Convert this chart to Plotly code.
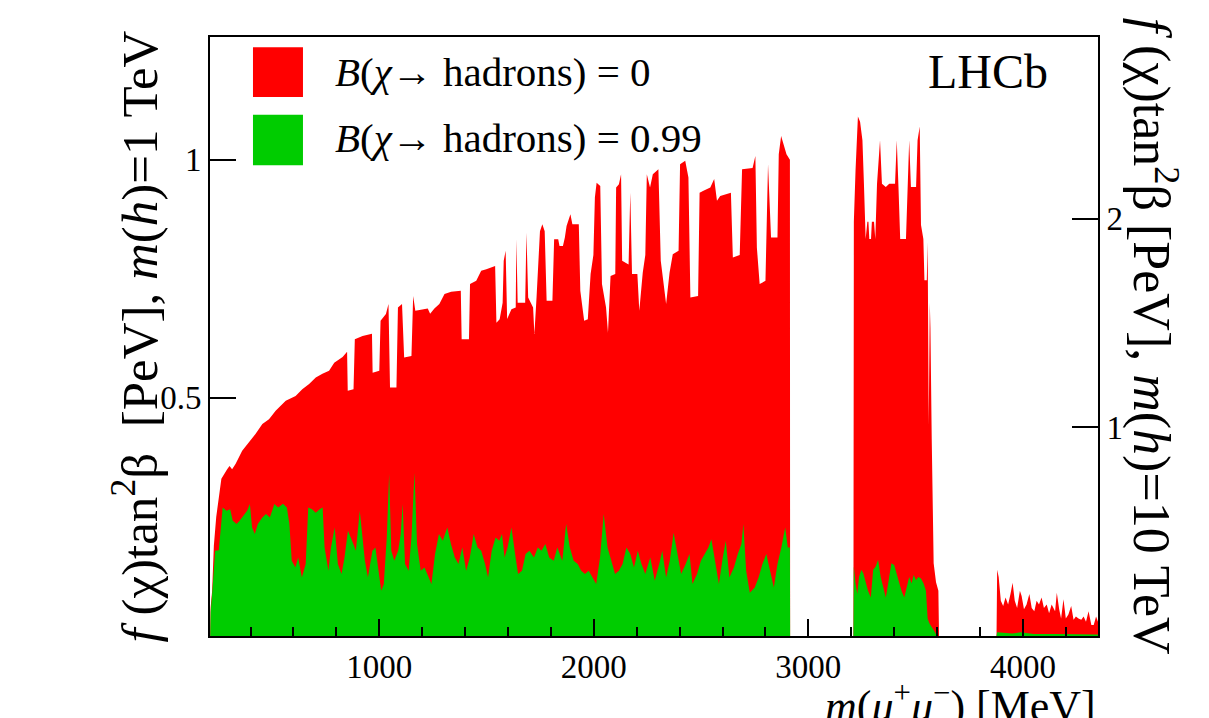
import plotly.graph_objects as go

# ---------------- data ----------------
# B(chi -> hadrons) = 0  (red), m(mu+mu-) in MeV, f(chi) tan^2 beta [PeV] for m(h)=1 TeV
red_mass = [
    212, 214, 221, 229, 240, 252, 264, 291, 302, 314, 330, 361, 392, 423, 455, 486, 517, 564,
    610, 641, 673, 704, 735, 766, 790, 829, 850, 853, 880, 886, 922, 966, 969, 1000, 1006,
    1031, 1043, 1050, 1080, 1087, 1106, 1116, 1150, 1158, 1168, 1226, 1237, 1257, 1280, 1304,
    1335, 1380, 1384, 1418, 1423, 1452, 1475, 1499, 1540, 1546, 1561, 1575, 1580, 1589, 1596,
    1616, 1636, 1639, 1645, 1680, 1686, 1694, 1717, 1723, 1733, 1749, 1760, 1771, 1780, 1807,
    1815, 1834, 1840, 1856, 1865, 1873, 1891, 1900, 1930, 1937, 1955, 1972, 1985, 1998, 2005,
    2013, 2030, 2038, 2057, 2066, 2078, 2100, 2104, 2117, 2127, 2132, 2162, 2170, 2178, 2203,
    2212, 2228, 2240, 2247, 2262, 2275, 2301, 2312, 2337, 2353, 2368, 2395, 2402, 2426, 2441,
    2450, 2486, 2493, 2511, 2543, 2561, 2574, 2589, 2639, 2648, 2680, 2691, 2740, 2753, 2760,
    2773, 2800, 2812, 2826, 2856, 2862, 2873, 2886, 2898, 2914, 2915,
    3210, 3212, 3220, 3231, 3241, 3252, 3259, 3267, 3275, 3280, 3284, 3292, 3296, 3306, 3312,
    3320, 3334, 3343, 3361, 3377, 3404, 3412, 3420, 3428, 3455, 3462, 3470, 3478, 3502, 3509,
    3519, 3525, 3536, 3541, 3552, 3556, 3561, 3566, 3569, 3575, 3584, 3595, 3606, 3609,
    3877, 3880, 3887, 3897, 3908, 3919, 3931, 3942, 3952, 3962, 3973, 3986, 3994, 4005, 4017,
    4030, 4041, 4053, 4064, 4075, 4087, 4098, 4111, 4122, 4134, 4150, 4158, 4169, 4178, 4189,
    4200, 4212, 4225, 4236, 4247, 4259, 4272, 4283, 4294, 4306, 4319, 4330, 4341, 4350,
]
red_limit = [
    0.0, 0.06, 0.095, 0.19, 0.25, 0.29, 0.33, 0.35, 0.357, 0.35, 0.361, 0.389, 0.406, 0.424,
    0.445, 0.455, 0.473, 0.494, 0.504, 0.518, 0.529, 0.543, 0.551, 0.557, 0.574, 0.586, 0.597,
    0.515, 0.518, 0.623, 0.630, 0.635, 0.553, 0.557, 0.662, 0.676, 0.697, 0.522, 0.522, 0.690,
    0.697, 0.585, 0.588, 0.714, 0.683, 0.688, 0.677, 0.688, 0.697, 0.718, 0.723, 0.725, 0.623,
    0.623, 0.739, 0.746, 0.767, 0.770, 0.777, 0.658, 0.665, 0.700, 0.788, 0.809, 0.666, 0.686,
    0.690, 0.833, 0.700, 0.700, 0.847, 0.711, 0.690, 0.634, 0.711, 0.850, 0.865, 0.850, 0.704,
    0.704, 0.833, 0.833, 0.819, 0.819, 0.837, 0.861, 0.886, 0.865, 0.865, 0.725, 0.662, 0.665,
    0.760, 0.800, 0.921, 0.952, 0.945, 0.739, 0.690, 0.637, 0.756, 0.760, 0.942, 0.949, 0.970,
    0.788, 0.780, 0.931, 0.760, 0.760, 0.683, 0.763, 0.800, 0.970, 0.942, 0.970, 0.980, 0.788,
    0.697, 0.763, 0.802, 0.809, 0.991, 0.998, 0.963, 0.711, 0.714, 0.931, 0.935, 0.942, 0.960,
    0.914, 0.924, 0.931, 0.795, 0.800, 0.980, 0.983, 1.008, 0.816, 0.739, 0.746, 0.991, 0.837,
    0.837, 1.012, 1.050, 1.030, 1.012, 1.000, 0.0,
    0.0, 0.870, 0.979, 1.091, 1.080, 1.041, 0.950, 0.834, 0.870, 0.870, 0.834, 0.834, 0.870,
    0.870, 0.834, 0.950, 1.041, 0.950, 0.943, 0.950, 0.950, 1.041, 0.943, 0.834, 0.834, 0.943,
    1.041, 0.943, 0.943, 1.041, 1.070, 0.863, 0.834, 0.747, 0.747, 0.827, 0.443, 0.700, 0.646,
    0.414, 0.153, 0.113, 0.095, 0.0,
    0.0, 0.139, 0.124, 0.074, 0.063, 0.081, 0.066, 0.088, 0.112, 0.074, 0.059, 0.095, 0.084,
    0.056, 0.066, 0.088, 0.059, 0.052, 0.074, 0.066, 0.081, 0.059, 0.066, 0.048, 0.066, 0.052,
    0.091, 0.056, 0.037, 0.077, 0.037, 0.045, 0.063, 0.034, 0.041, 0.037, 0.034, 0.041, 0.030,
    0.052, 0.023, 0.023, 0.041, 0.030,
]

# B(chi -> hadrons) = 0.99 (green)
green_mass = [
    212, 214, 222, 235, 252, 270, 288, 305, 317, 335, 349, 367, 384, 397, 407, 420, 434, 455,
    472, 490, 511, 529, 551, 569, 581, 592, 609, 622, 639, 657, 669, 687, 704, 722, 736, 745,
    763, 775, 792, 807, 824, 838, 854, 873, 891, 909, 921, 933, 947, 968, 982, 995, 1009, 1021,
    1035, 1046, 1056, 1070, 1088, 1100, 1109, 1120, 1137, 1150, 1164, 1176, 1193, 1211, 1229,
    1243, 1260, 1278, 1296, 1317, 1334, 1352, 1369, 1387, 1405, 1422, 1440, 1458, 1475, 1493,
    1507, 1524, 1542, 1559, 1572, 1584, 1598, 1616, 1633, 1647, 1665, 1682, 1700, 1721, 1739,
    1756, 1774, 1792, 1813, 1830, 1853, 1871, 1888, 1906, 1925, 1941, 1959, 1976, 1994, 2011,
    2029, 2046, 2064, 2082, 2099, 2117, 2134, 2152, 2170, 2187, 2205, 2222, 2240, 2263, 2284,
    2305, 2319, 2337, 2354, 2372, 2389, 2407, 2428, 2446, 2460, 2481, 2499, 2516, 2534, 2548,
    2565, 2583, 2601, 2615, 2632, 2653, 2671, 2688, 2697, 2710, 2727, 2750, 2768, 2786, 2804,
    2821, 2839, 2856, 2874, 2892, 2904, 2914, 2915,
    3210, 3212, 3220, 3228, 3236, 3247, 3256, 3267, 3278, 3291, 3302, 3314, 3325, 3337, 3350,
    3361, 3372, 3381, 3387, 3400, 3411, 3423, 3434, 3447, 3459, 3470, 3481, 3491, 3502, 3512,
    3525, 3537, 3548, 3556, 3564, 3575, 3587, 3600,
    3877, 3880, 3950, 3990, 4050, 4150, 4250, 4350,
]
green_limit = [
    0.0, 0.05, 0.095, 0.179, 0.180, 0.270, 0.263, 0.266, 0.242, 0.235, 0.242, 0.252, 0.263,
    0.277, 0.228, 0.214, 0.235, 0.249, 0.256, 0.249, 0.277, 0.270, 0.278, 0.270, 0.235, 0.158,
    0.144, 0.165, 0.123, 0.151, 0.270, 0.266, 0.259, 0.266, 0.270, 0.186, 0.137, 0.186, 0.228,
    0.151, 0.130, 0.165, 0.221, 0.200, 0.179, 0.263, 0.214, 0.158, 0.123, 0.179, 0.186, 0.137,
    0.095, 0.109, 0.207, 0.340, 0.179, 0.158, 0.179, 0.214, 0.277, 0.151, 0.137, 0.207, 0.343,
    0.193, 0.137, 0.144, 0.123, 0.109, 0.172, 0.214, 0.200, 0.228, 0.193, 0.165, 0.151, 0.186,
    0.137, 0.165, 0.214, 0.186, 0.179, 0.151, 0.123, 0.179, 0.207, 0.200, 0.214, 0.165, 0.186,
    0.228, 0.172, 0.130, 0.137, 0.172, 0.179, 0.165, 0.186, 0.179, 0.193, 0.165, 0.158, 0.186,
    0.158, 0.235, 0.186, 0.158, 0.151, 0.137, 0.130, 0.137, 0.123, 0.109, 0.165, 0.256, 0.186,
    0.158, 0.130, 0.137, 0.151, 0.186, 0.172, 0.144, 0.179, 0.151, 0.130, 0.165, 0.116, 0.151,
    0.179, 0.123, 0.158, 0.217, 0.172, 0.130, 0.151, 0.172, 0.109, 0.130, 0.158, 0.172, 0.186,
    0.203, 0.158, 0.109, 0.165, 0.200, 0.123, 0.144, 0.172, 0.193, 0.235, 0.137, 0.091, 0.102,
    0.123, 0.151, 0.172, 0.137, 0.102, 0.151, 0.186, 0.228, 0.186, 0.186, 0.0,
    0.0, 0.146, 0.110, 0.088, 0.124, 0.139, 0.132, 0.110, 0.095, 0.081, 0.139, 0.146, 0.160,
    0.124, 0.102, 0.081, 0.110, 0.132, 0.153, 0.149, 0.132, 0.113, 0.095, 0.081, 0.102, 0.124,
    0.110, 0.128, 0.117, 0.124, 0.121, 0.110, 0.095, 0.037, 0.027, 0.020, 0.010, 0.0,
    0.0, 0.008, 0.005, 0.008, 0.004, 0.004, 0.003, 0.003,
]

x_ticks = [1000, 2000, 3000, 4000]
x_tick_text = ["1000", "2000", "3000", "4000"]
yl_ticks = [0.5, 1]
yl_tick_text = ["0.5", "1"]
yr_ticks = [1, 2]
yr_tick_text = ["1", "2"]

legend_labels = ["<i>B</i>(<i>χ</i>→ hadrons) = 0", "<i>B</i>(<i>χ</i>→ hadrons) = 0.99"]
RED = "rgb(255,0,0)"
GREEN = "rgb(0,204,0)"
FONT = "Liberation Serif"

fig = go.Figure()
fig.add_trace(go.Scatter(x=red_mass, y=red_limit, mode="lines", fill="tozeroy",
                         line=dict(color=RED, width=0), fillcolor=RED, showlegend=False))
fig.add_trace(go.Scatter(x=green_mass, y=green_limit, mode="lines", fill="tozeroy",
                         line=dict(color=GREEN, width=0), fillcolor=GREEN, showlegend=False))
# invisible trace to activate right axis
fig.add_trace(go.Scatter(x=[None], y=[None], yaxis="y2", showlegend=False))

fig.update_layout(
    width=1209, height=718,
    margin=dict(l=210, r=111, t=37, b=82),
    paper_bgcolor="white", plot_bgcolor="white",
    font=dict(family=FONT, color="black", size=33),
    xaxis=dict(range=[211, 4350], tickvals=x_ticks, ticktext=x_tick_text,
               ticks="inside", ticklen=17, tickwidth=2, tickcolor="black",
               minor=dict(dtick=200, tick0=0, ticks="inside", ticklen=9, tickwidth=2, tickcolor="black"),
               showline=True, linewidth=2, linecolor="black", mirror=True,
               showgrid=False, zeroline=False, tickfont=dict(size=33, family=FONT)),
    yaxis=dict(range=[0, 1.258], tickvals=yl_ticks, ticktext=yl_tick_text,
               ticks="inside", ticklen=26, tickwidth=2, tickcolor="black",
               showline=True, linewidth=2, linecolor="black",
               showgrid=False, zeroline=False, tickfont=dict(size=33, family=FONT)),
    yaxis2=dict(range=[0, 2.87], tickvals=yr_ticks, ticktext=yr_tick_text, overlaying="y", side="right",
                ticks="inside", ticklen=26, tickwidth=2, tickcolor="black",
                showline=True, linewidth=2, linecolor="black",
                showgrid=False, zeroline=False, tickfont=dict(size=33, family=FONT)),
)

# legend boxes and texts
fig.add_shape(type="rect", xref="paper", yref="paper", x0=0.0484, x1=0.1047, y0=0.900, y1=0.983,
              fillcolor=RED, line=dict(width=0))
fig.add_shape(type="rect", xref="paper", yref="paper", x0=0.0484, x1=0.1047, y0=0.786, y1=0.870,
              fillcolor=GREEN, line=dict(width=0))
fig.add_annotation(xref="paper", yref="paper", x=0.1385, y=0.9416, text=legend_labels[0],
                   showarrow=False, xanchor="left", yanchor="middle", font=dict(size=41, family=FONT))
fig.add_annotation(xref="paper", yref="paper", x=0.1385, y=0.8314, text=legend_labels[1],
                   showarrow=False, xanchor="left", yanchor="middle", font=dict(size=41, family=FONT))
fig.add_annotation(xref="paper", yref="paper", x=0.946, y=0.9416, text="LHCb",
                   showarrow=False, xanchor="right", yanchor="middle", font=dict(size=48, family=FONT))

# axis titles
fig.add_annotation(xref="paper", yref="paper", x=-0.0845, y=0.5,
                   text="<i>f</i> (χ)tan<sup>2</sup>β  [PeV], <i>m</i>(<i>h</i>)=1 TeV",
                   textangle=-90, showarrow=False, xanchor="center", yanchor="middle",
                   font=dict(size=51, family=FONT))
fig.add_annotation(xref="paper", yref="paper", x=1.064, y=0.5,
                   text="<i>f</i> (χ)tan<sup>2</sup>β [PeV], <i>m</i>(<i>h</i>)=10 TeV",
                   textangle=90, showarrow=False, xanchor="center", yanchor="middle",
                   font=dict(size=52, family=FONT))
fig.add_annotation(xref="paper", yref="paper", x=1.0, y=-0.112,
                   text="<i>m</i>(<i>μ</i><sup>+</sup><i>μ</i><sup>−</sup>) [MeV]",
                   showarrow=False, xanchor="right", yanchor="middle",
                   font=dict(size=44, family=FONT))

fig.write_html("out.html")
